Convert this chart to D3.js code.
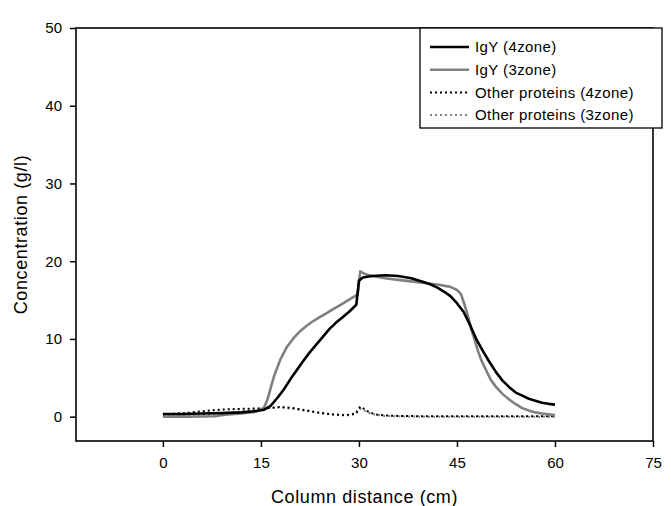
<!DOCTYPE html>
<html>
<head>
<meta charset="utf-8">
<script src="https://cdn.jsdelivr.net/npm/d3@7"></script>
<style>
  html, body { margin: 0; padding: 0; background: #fff; }
  svg { display: block; font-family: "Liberation Sans", Arial, sans-serif; }
</style>
</head>
<body>
<svg id="chart" width="671" height="506"></svg>
<script>
// ---- data ----
const xTicks = [0, 15, 30, 45, 60, 75];
const yTicks = [0, 10, 20, 30, 40, 50];

const igy4X = [0, 3, 6, 9, 12, 14, 15.5, 16.5, 17.5, 18.5, 19.5, 20.5, 21.5, 22.5, 23.5, 24.5, 25.5, 26.5, 27.5, 28.5, 29.6, 30, 30.6, 32, 34, 36, 38, 40, 41, 42, 43, 44, 45, 46, 47, 48, 49, 50, 51, 52, 53, 54, 55, 56, 57, 58, 59, 60];
const igy4Y = [0.35, 0.35, 0.4, 0.45, 0.55, 0.7, 0.9, 1.4, 2.4, 3.5, 4.8, 6.0, 7.2, 8.3, 9.3, 10.3, 11.3, 12.1, 12.8, 13.5, 14.4, 17.5, 17.9, 18.1, 18.2, 18.1, 17.8, 17.3, 17.0, 16.6, 16.1, 15.5, 14.6, 13.5, 11.8, 9.9, 8.4, 7.0, 5.7, 4.6, 3.8, 3.1, 2.7, 2.3, 2.05, 1.8, 1.65, 1.55];

const igy3X = [0, 4, 8, 10, 12, 14, 15, 15.5, 16, 16.5, 17, 18, 19, 20, 21, 22, 23, 24, 25, 26, 27, 28, 29, 29.8, 30.2, 30.8, 32, 34, 36, 38, 40, 42, 44, 45, 45.6, 46.2, 46.7, 47.2, 47.7, 48.2, 48.7, 49.5, 50.2, 51, 52, 53, 54, 55, 56, 57, 58, 59, 60];
const igy3Y = [0.0, 0.0, 0.05, 0.3, 0.4, 0.6, 0.9, 1.2, 2.2, 3.7, 5.2, 7.4, 9.0, 10.1, 11.0, 11.7, 12.3, 12.8, 13.3, 13.8, 14.3, 14.8, 15.3, 15.7, 18.7, 18.4, 18.1, 17.8, 17.6, 17.4, 17.2, 17.0, 16.7, 16.3, 15.8, 14.3, 12.9, 11.2, 9.9, 8.5, 7.3, 5.9, 4.7, 3.8, 2.9, 2.2, 1.6, 1.1, 0.8, 0.55, 0.4, 0.3, 0.2];

const otherX = [0, 2, 4, 6, 8, 10, 12, 14, 16, 18, 20, 22, 24, 26, 28, 29.5, 30.2, 30.8, 31.5, 32.5, 34, 36, 40, 44, 48, 52, 56, 60];
const other4Y = [0.3, 0.4, 0.5, 0.7, 0.85, 0.95, 1.0, 1.05, 1.1, 1.25, 1.1, 0.8, 0.5, 0.3, 0.2, 0.4, 1.3, 1.0, 0.6, 0.3, 0.15, 0.1, 0.05, 0.05, 0.05, 0.05, 0.05, 0.05];
const other3Y = [0.1, 0.1, 0.15, 0.2, 0.3, 0.5, 0.7, 0.9, 1.1, 1.2, 1.0, 0.75, 0.45, 0.25, 0.15, 0.3, 1.0, 0.8, 0.5, 0.25, 0.1, 0.05, 0.0, 0.0, 0.0, 0.0, 0.0, 0.0];

const seriesNames = ["IgY (4zone)", "IgY (3zone)", "Other proteins (4zone)", "Other proteins (3zone)"];
const xTitle = "Column distance (cm)";
const yTitle = "Concentration (g/l)";

// ---- layout ----
const L = 76, R = 653, T = 28, B = 441;
const svg = d3.select("#chart");
const x = d3.scaleLinear().domain([-13.3, 75]).range([L, R]);
const y = d3.scaleLinear().domain([-3.13, 50]).range([B, T]);

const styles = [
  { color: "#000000", width: 2.6, dash: null },
  { color: "#808080", width: 2.6, dash: null },
  { color: "#000000", width: 2, dash: "2,3" },
  { color: "#808080", width: 2, dash: "2,3" }
];

const series = [
  igy4X.map((v, i) => [v, igy4Y[i]]),
  igy3X.map((v, i) => [v, igy3Y[i]]),
  otherX.map((v, i) => [v, other4Y[i]]),
  otherX.map((v, i) => [v, other3Y[i]])
];

// axes
const xAxis = svg.append("g").attr("transform", `translate(0,${B})`)
  .call(d3.axisBottom(x).tickValues(xTicks).tickSize(6).tickSizeOuter(0).tickPadding(10));
const yAxis = svg.append("g").attr("transform", `translate(${L},0)`)
  .call(d3.axisLeft(y).tickValues(yTicks).tickSize(6).tickSizeOuter(0).tickPadding(8));
[xAxis, yAxis].forEach(g => {
  g.select(".domain").remove();
  g.selectAll(".tick line").attr("stroke", "#000").attr("stroke-width", 1.5);
  g.selectAll(".tick text").attr("fill", "#000").style("font-size", "15px")
    .style("font-family", "'Liberation Sans', Arial, sans-serif");
});

// lines
const line = d3.line().x(d => x(d[0])).y(d => y(d[1]));
const order = [3, 2, 1, 0];
order.forEach(i => {
  svg.append("path").datum(series[i])
    .attr("d", line)
    .attr("fill", "none")
    .attr("stroke", styles[i].color)
    .attr("stroke-width", styles[i].width)
    .attr("stroke-dasharray", styles[i].dash)
    .attr("stroke-linejoin", "round");
});

// frame
svg.append("rect").attr("x", L).attr("y", T).attr("width", R - L).attr("height", B - T)
  .attr("fill", "none").attr("stroke", "#000").attr("stroke-width", 1.6);

// legend
const lg = svg.append("g");
lg.append("rect").attr("x", 420).attr("y", T).attr("width", 662 - 420).attr("height", 100)
  .attr("fill", "#fff").attr("stroke", "#000").attr("stroke-width", 1.3);
seriesNames.forEach((name, i) => {
  const ry = 47 + i * 22.7;
  lg.append("line").attr("x1", 430).attr("x2", 469).attr("y1", ry).attr("y2", ry)
    .attr("stroke", styles[i].color).attr("stroke-width", styles[i].width)
    .attr("stroke-dasharray", styles[i].dash);
  lg.append("text").attr("x", 475).attr("y", ry).attr("dy", "0.35em")
    .style("font-size", "15px").style("letter-spacing", "0.4px").attr("fill", "#000").text(name);
});

// titles
svg.append("text").attr("x", (L + R) / 2).attr("y", 503).attr("text-anchor", "middle")
  .style("font-size", "18px").style("letter-spacing", "0.6px").attr("fill", "#000").text(xTitle);
svg.append("text").attr("transform", `translate(27,${(T + B) / 2}) rotate(-90)`)
  .attr("text-anchor", "middle")
  .style("font-size", "18px").style("letter-spacing", "0.6px").attr("fill", "#000").text(yTitle);
</script>
</body>
</html>
